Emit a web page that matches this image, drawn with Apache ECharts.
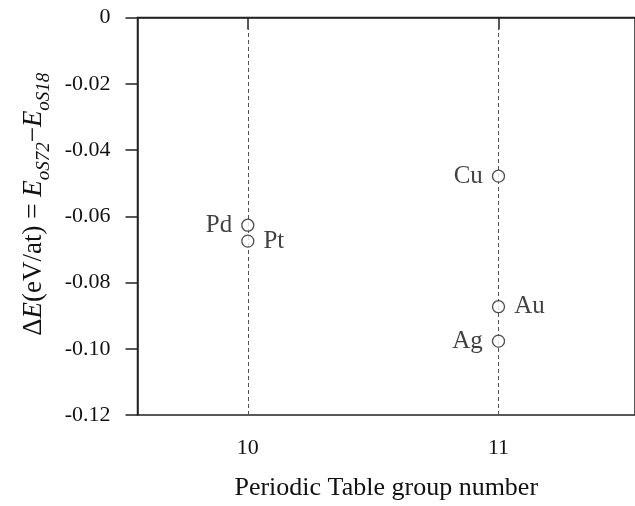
<!DOCTYPE html>
<html><head><meta charset="utf-8">
<script src="https://cdn.jsdelivr.net/npm/echarts@6/dist/echarts.min.js"></script>
<style>html,body{margin:0;padding:0;background:#fff}#c{width:635px;height:506px}</style>
</head><body><div id="c"></div>
<script>
const elements = ['Pd','Pt','Cu','Au','Ag'];
const groups = [10,10,11,11,11];
const deltaE = [-0.0627,-0.0675,-0.0479,-0.0873,-0.0977];
const labelSide = ['left','right','left','right','left'];
const xTicks = [10,11];
const yTicks = [0,-0.02,-0.04,-0.06,-0.08,-0.10,-0.12];

const FONT = '"Liberation Serif","Times New Roman",serif';
const TXT = '#111';
const chart = echarts.init(document.getElementById('c'));
const data = elements.map((n,i)=>({
  name:n, value:[groups[i],deltaE[i]],
  label:{position:labelSide[i]}
}));
chart.setOption({
  animation:false,
  grid:{left:137.5,top:17.5,right:-2,bottom:85.3,show:true,borderColor:'#222',borderWidth:1.5,containLabel:false},
  xAxis:{type:'value',min:9.56,max:11.5445,
    axisLine:{show:true,lineStyle:{color:'#222',width:1.5}},
    axisTick:{show:true,length:12,lineStyle:{color:'#222',width:1.5},customValues:xTicks},
    axisLabel:{margin:22,fontFamily:FONT,fontSize:22,color:TXT,customValues:xTicks},
    splitLine:{show:false},
    name:'Periodic Table group number',nameLocation:'middle',nameGap:60,
    nameTextStyle:{fontFamily:FONT,fontSize:26,color:TXT}
  },
  yAxis:{type:'value',min:-0.12,max:0,interval:0.02,
    axisLine:{show:true,lineStyle:{color:'#222',width:1.5}},
    axisTick:{show:true,length:12,lineStyle:{color:'#222',width:1.5}},
    axisLabel:{margin:27,fontFamily:FONT,fontSize:22,color:TXT,
      formatter:v=>Math.abs(v)<1e-9?'0':v.toFixed(2)},
    splitLine:{show:false},
    name:'{n|Δ}{i|E}{n|(eV/at) = }{i|E}{s|oS72}{n|−}{i|E}{s|oS18}',
    nameLocation:'middle',nameGap:80,nameRotate:90,
    nameTextStyle:{fontFamily:FONT,fontSize:27,color:TXT,padding:[0,0,0,24],
      rich:{
        n:{fontFamily:FONT,fontSize:27,color:TXT,lineHeight:32,verticalAlign:'bottom'},
        i:{fontFamily:FONT,fontSize:27,fontStyle:'italic',color:TXT,lineHeight:32,verticalAlign:'bottom'},
        s:{fontFamily:FONT,fontSize:19,fontStyle:'italic',color:TXT,lineHeight:32,verticalAlign:'bottom',padding:[0,0,-6,0]}
      }}
  },
  series:[{
    type:'scatter',symbol:'circle',symbolSize:12,
    itemStyle:{color:'#fff',borderColor:'#222',borderWidth:1.3},
    label:{show:true,formatter:'{b}',fontFamily:FONT,fontSize:25,color:TXT,distance:9},
    data:data,z:5,
    markLine:{silent:true,symbol:'none',label:{show:false},
      lineStyle:{color:'#555',type:[4,3],width:1},
      data:xTicks.map(v=>({xAxis:v}))}
  }]
});
</script></body></html>
